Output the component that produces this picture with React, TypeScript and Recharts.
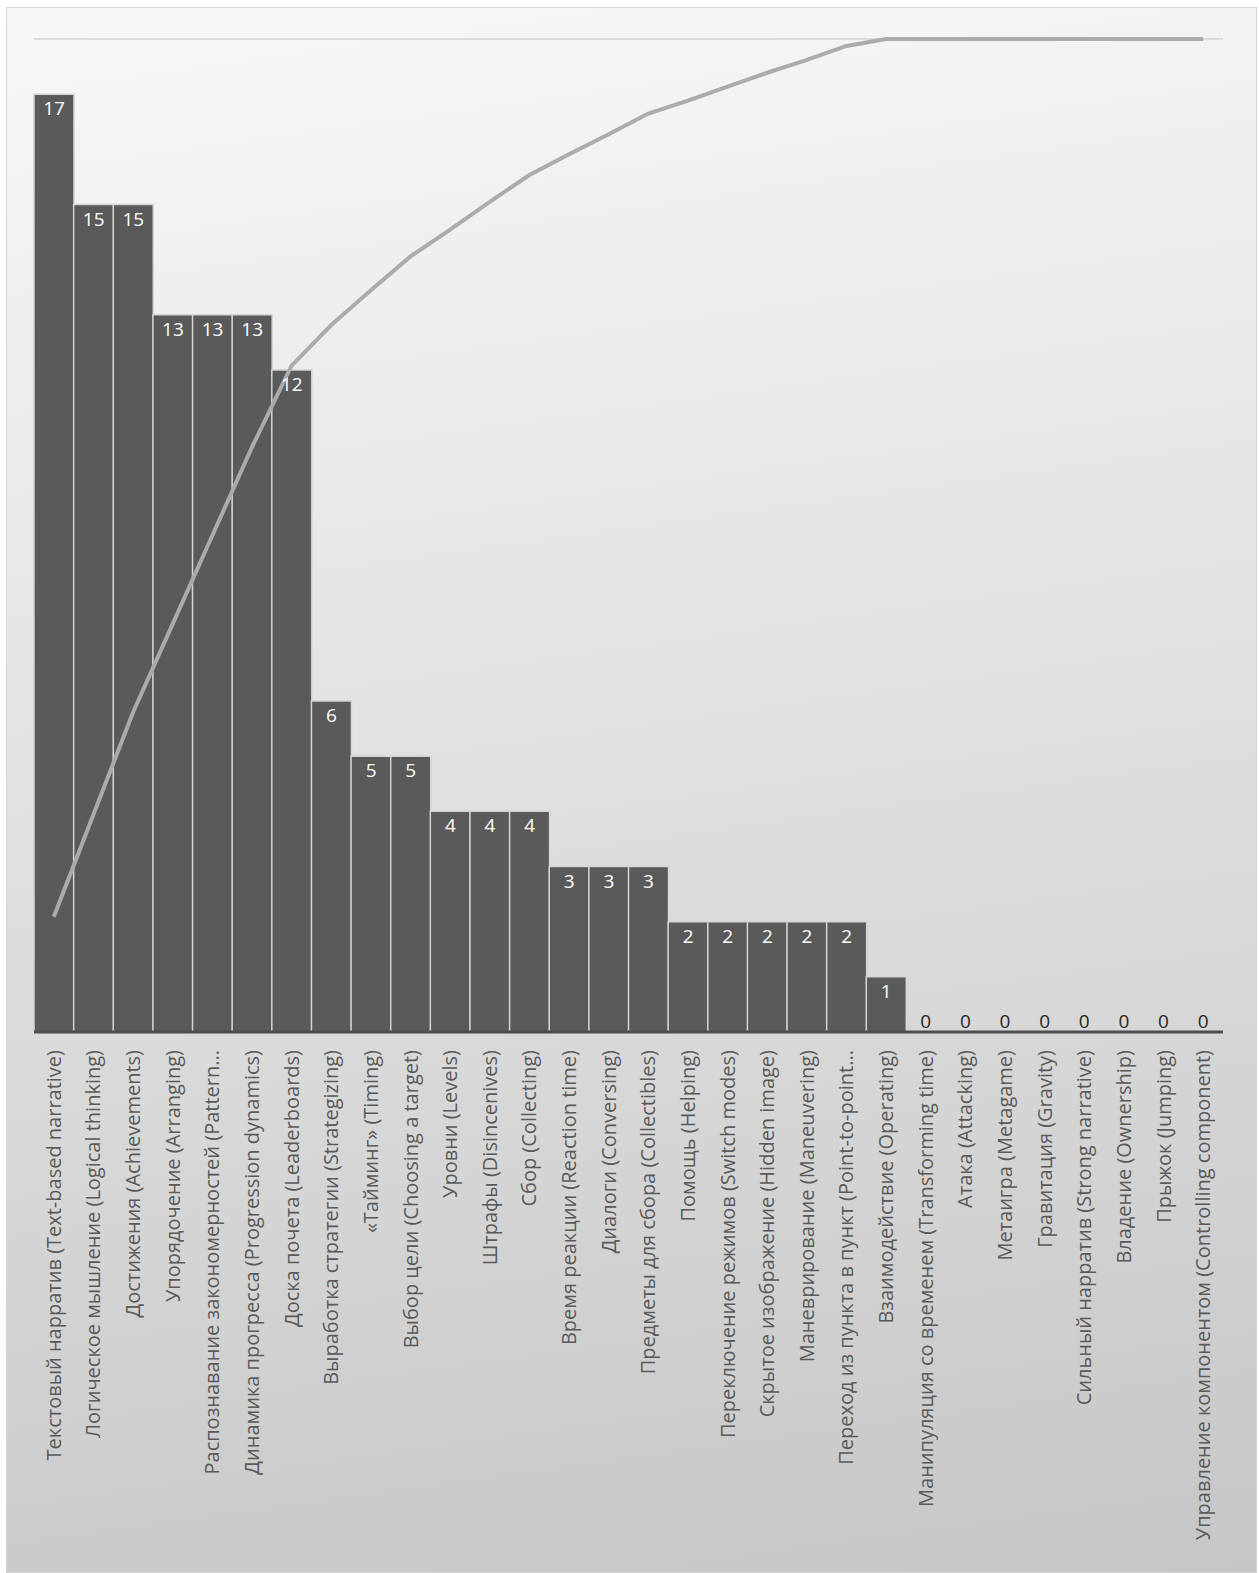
import React from "react";
import {
  ComposedChart,
  Bar,
  Line,
  XAxis,
  YAxis,
  CartesianGrid,
  LabelList,
} from "recharts";

const categories = [
  "Текстовый нарратив (Text-based narrative)",
  "Логическое мышление (Logical thinking)",
  "Достижения (Achievements)",
  "Упорядочение (Arranging)",
  "Распознавание закономерностей (Pattern...",
  "Динамика прогресса (Progression dynamics)",
  "Доска почета (Leaderboards)",
  "Выработка стратегии (Strategizing)",
  "«Тайминг» (Timing)",
  "Выбор цели (Choosing a target)",
  "Уровни (Levels)",
  "Штрафы (Disincenives)",
  "Сбор (Collecting)",
  "Время реакции (Reaction time)",
  "Диалоги (Conversing)",
  "Предметы для сбора (Collectibles)",
  "Помощь (Helping)",
  "Переключение режимов (Switch modes)",
  "Скрытое изображение (Hidden image)",
  "Маневрирование (Maneuvering)",
  "Переход из пункта в пункт (Point-to-point...",
  "Взаимодействие (Operating)",
  "Манипуляция со временем (Transforming time)",
  "Атака (Attacking)",
  "Метаигра (Metagame)",
  "Гравитация (Gravity)",
  "Сильный нарратив (Strong narrative)",
  "Владение (Ownership)",
  "Прыжок (Jumping)",
  "Управление компонентом (Controlling component)",
];

const counts = [
  17, 15, 15, 13, 13, 13, 12, 6, 5, 5, 4, 4, 4, 3, 3, 3, 2, 2, 2, 2, 2, 1, 0, 0,
  0, 0, 0, 0, 0, 0,
];

// cumulative share, %
const cumulative = [
  11.6, 21.9, 32.2, 41.1, 50.0, 58.9, 67.1, 71.2, 74.7, 78.1, 80.8, 83.6, 86.3,
  88.4, 90.4, 92.5, 93.8, 95.2, 96.6, 97.9, 99.3, 100, 100, 100, 100, 100, 100,
  100, 100, 100,
];

const countTicks = [0, 2, 4, 6, 8, 10, 12, 14, 16, 18];

const data = categories.map((name, i) => ({
  name,
  count: counts[i],
  cum: cumulative[i],
}));

const FONT = "'Open Sans', sans-serif";

const CategoryTick = (props: any) => {
  const { x, y, payload } = props;
  return (
    <text
      x={0}
      y={0}
      dy="0.35em"
      transform={`translate(${x},${y + 10}) rotate(-90)`}
      textAnchor="end"
      fill="#595959"
      fontSize={20}
      fontFamily={FONT}
    >
      {payload.value}
    </text>
  );
};

// white labels inside the bars
const ValueLabel = (props: any) => {
  const { x, y, width, value } = props;
  if (!value) return null;
  return (
    <text
      x={Number(x) + Number(width) / 2}
      y={Number(y) + 21}
      textAnchor="middle"
      fill="#ffffff"
      fontSize={19}
      fontFamily={FONT}
    >
      {value}
    </text>
  );
};

// zero bars have no height, so their labels sit on the axis
const ZeroLabel = (props: any) => {
  const { x, y, value } = props;
  if (value !== 0) return null;
  return (
    <text
      x={Number(x)}
      y={Number(y) - 4}
      textAnchor="middle"
      fill="#262626"
      fontSize={19}
      fontFamily={FONT}
    >
      {value}
    </text>
  );
};

export default function App() {
  return (
    <div
      style={{
        position: "absolute",
        left: 6,
        top: 7,
        width: 1249,
        height: 1564,
        border: "1px solid #d6d6d6",
        background:
          "linear-gradient(172deg, #f8f8f8 0%, #e2e2e2 45%, #c6c6c6 100%)",
      }}
    >
      <ComposedChart
        width={1249}
        height={1564}
        data={data}
        barCategoryGap={0}
        margin={{ top: 31, right: 33, left: 27, bottom: 4 }}
      >
        <CartesianGrid vertical={false} stroke="#d2d2d2" strokeWidth={1.5} />
        <XAxis
          dataKey="name"
          interval={0}
          height={536}
          tick={<CategoryTick />}
          tickLine={false}
          axisLine={{ stroke: "#4d4d4d", strokeWidth: 3 }}
        />
        <YAxis yAxisId="count" domain={[0, 18]} ticks={countTicks} hide />
        <YAxis yAxisId="cum" orientation="right" domain={[0, 100]} hide />
        <Bar
          yAxisId="count"
          dataKey="count"
          fill="#5a5a5a"
          stroke="#d4d4d4"
          strokeWidth={1.5}
          isAnimationActive={false}
        >
          <LabelList dataKey="count" content={<ValueLabel />} />
        </Bar>
        <Line
          yAxisId="count"
          dataKey="count"
          stroke="none"
          dot={false}
          activeDot={false}
          legendType="none"
          isAnimationActive={false}
        >
          <LabelList dataKey="count" content={<ZeroLabel />} />
        </Line>
        <Line
          yAxisId="cum"
          dataKey="cum"
          type="linear"
          stroke="#ababab"
          strokeWidth={4}
          dot={false}
          activeDot={false}
          isAnimationActive={false}
        />
      </ComposedChart>
    </div>
  );
}
